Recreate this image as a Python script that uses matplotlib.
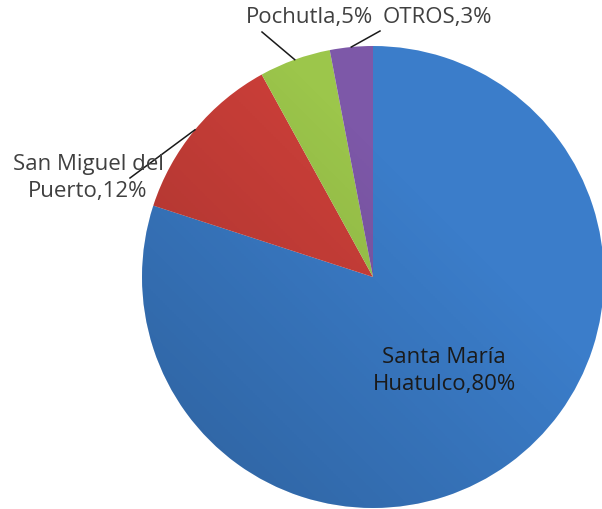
import numpy as np
import matplotlib

matplotlib.use("Agg")
import matplotlib.pyplot as plt

plt.rcParams["font.family"] = ["Open Sans", "DejaVu Sans"]

labels = ["Santa María\nHuatulco,80%", "San Miguel del\nPuerto,12%", "Pochutla,5%", "OTROS,3%"]
shares = [80, 12, 5, 3]
colors = ["#3b7dca", "#cc3f39", "#9cc64b", "#7d58a8"]

# label placement (pixel coords, y down) and leader end points
label_xy = [(444, 371), (88, 178), (309, 18), (437, 18)]
leader_end = [None, (130, 179), (262, 33), (380, 32)]

W, H = 602, 510
cx, cy, R = 373, 278, 231

fig = plt.figure(figsize=(W / 100, H / 100), dpi=100)
ax = fig.add_axes([0, 0, 1, 1])

wedges, _ = ax.pie(shares, colors=colors, startangle=90, counterclock=False,
                   center=(cx, H - cy), radius=R, frame=True,
                   wedgeprops=dict(linewidth=0))
ax.set_xlim(0, W)
ax.set_ylim(0, H)
ax.axis("off")

# soft shading: darker towards lower left
gx, gy = np.meshgrid(np.linspace(0, 1, 200), np.linspace(0, 1, 200))
shade = np.clip(1 - (gx + gy) / 1.3, 0, 1)
rgba = np.zeros((200, 200, 4))
rgba[..., 3] = 0.22 * shade
img = ax.imshow(rgba, extent=(cx - R, cx + R, H - cy - R, H - cy + R), origin="lower", zorder=3)
circ = plt.Circle((cx, H - cy), R, transform=ax.transData)
img.set_clip_path(circ)

for i, (w, lab) in enumerate(zip(wedges, labels)):
    tx, ty = label_xy[i]
    color = "#1a1a1a" if i == 0 else "#404040"
    ax.text(tx, H - ty, lab, ha="center", va="center", fontsize=16,
            color=color, linespacing=1.38, zorder=5)
    if leader_end[i] is not None:
        mid = np.deg2rad((w.theta1 + w.theta2) / 2)
        x0 = cx + R * np.cos(mid)
        y0 = H - cy + R * np.sin(mid)
        ex, ey = leader_end[i]
        ax.plot([x0, ex], [y0, H - ey], color="#1a1a1a", linewidth=1.1, zorder=4)

fig.savefig("out.png", dpi=100)
